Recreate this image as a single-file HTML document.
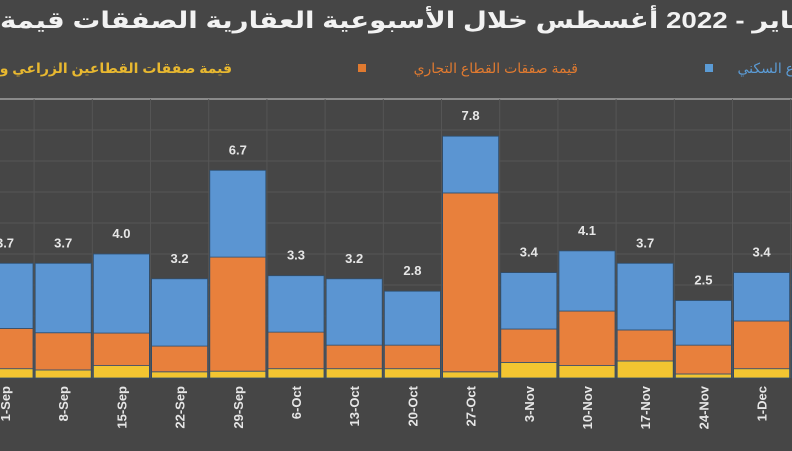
<!DOCTYPE html>
<html><head><meta charset="utf-8"><style>
body{margin:0;background:#464646;width:792px;height:446px;overflow:hidden;font-family:"Liberation Sans","DejaVu Sans","Noto Sans CJK SC",sans-serif}
</style></head><body>
<svg id="chart" width="792" height="446" xmlns="http://www.w3.org/2000/svg">
<rect width="792" height="446" fill="#464646"/>
<text x="0" y="28" text-anchor="start" font-size="23" font-weight="bold" fill="#f2f2f2" textLength="812" lengthAdjust="spacingAndGlyphs">يناير - 2022 أغسطس خلال الأسبوعية العقارية الصفقات قيمة</text>
<g>
<text x="232" y="73" text-anchor="end" font-size="14" font-weight="bold" fill="#e8b830">قيمة صفقات القطاعين الزراعي و</text>
<text x="578" y="73" text-anchor="end" font-size="14" fill="#e07a30">قيمة صفقات القطاع التجاري</text>
<rect x="358" y="64" width="8" height="8" fill="#e07a30"/>
<text x="794" y="73" text-anchor="end" font-size="14" fill="#5b9bd5">ع السكني</text>
<rect x="705" y="64" width="8" height="8" fill="#5b9bd5"/>
</g>
<g id="grid"></g>
<g id="bars"></g>
<g id="labels"></g>
</svg>
<script>
const categories=["1-Sep","8-Sep","15-Sep","22-Sep","29-Sep","6-Oct","13-Oct","20-Oct","27-Oct","3-Nov","10-Nov","17-Nov","24-Nov","1-Dec","8-Dec"];
const agri=[0.3,0.26,0.4,0.2,0.22,0.3,0.3,0.3,0.2,0.5,0.4,0.55,0.13,0.3,0.3];
const commercial=[1.3,1.2,1.05,0.83,3.68,1.18,0.76,0.76,5.77,1.08,1.76,1.0,0.93,1.54,1.6];
const residential=[2.1,2.24,2.55,2.17,2.8,1.82,2.14,1.74,1.83,1.82,1.94,2.15,1.44,1.56,1.6];
const totals=["3.7","3.7","4.0","3.2","6.7","3.3","3.2","2.8","7.8","3.4","4.1","3.7","2.5","3.4","3.5"];
const gridTicks=[1,2,3,4,5,6,7,8,9];
const NS="http://www.w3.org/2000/svg";
const base=378, unit=31, x0=5, step=58.2, bw=56;
const y=v=>base-v*unit;
const xc=i=>x0+i*step;
function mk(t,a,p){const e=document.createElementNS(NS,t);for(const k in a)e.setAttribute(k,a[k]);p.appendChild(e);return e;}
const grid=document.getElementById('grid'),bars=document.getElementById('bars'),labels=document.getElementById('labels');
gridTicks.forEach(v=>{const l=mk('line',{x1:0,x2:792,y1:y(v),y2:y(v),stroke:v===9?'#8a8a8a':'#555555','stroke-width':v===9?2:1},grid);

});
categories.forEach((c,i)=>{const l=mk('line',{x1:xc(i)+step/2,x2:xc(i)+step/2,y1:y(9),y2:base,stroke:'#555555'},grid);

});
categories.forEach((c,i)=>{
 const segs=[[agri[i],'#f2c531','agri'],[commercial[i],'#e8803c','commercial'],[residential[i],'#5b95d2','residential']];
 let cum=0;
 segs.forEach(s=>{const r=mk('rect',{x:xc(i)-bw/2,y:y(cum+s[0]),width:bw,height:s[0]*unit,fill:s[1],stroke:'#2f4f6f','stroke-width':0.8},bars);
 
 
 cum+=s[0];});
 const t=mk('text',{x:xc(i),y:y(cum)-16,'text-anchor':'middle','font-size':13,'font-weight':'bold',fill:'#e6e6e6'},labels);
 t.textContent=totals[i];
 
 
 const xl=mk('text',{x:0,y:0,'text-anchor':'end','font-size':13,'font-weight':'bold',fill:'#e6e6e6',transform:`translate(${xc(i)+5},${base+8}) rotate(-90)`},labels);
 xl.textContent=c;
 
 
});
</script>
</body></html>
